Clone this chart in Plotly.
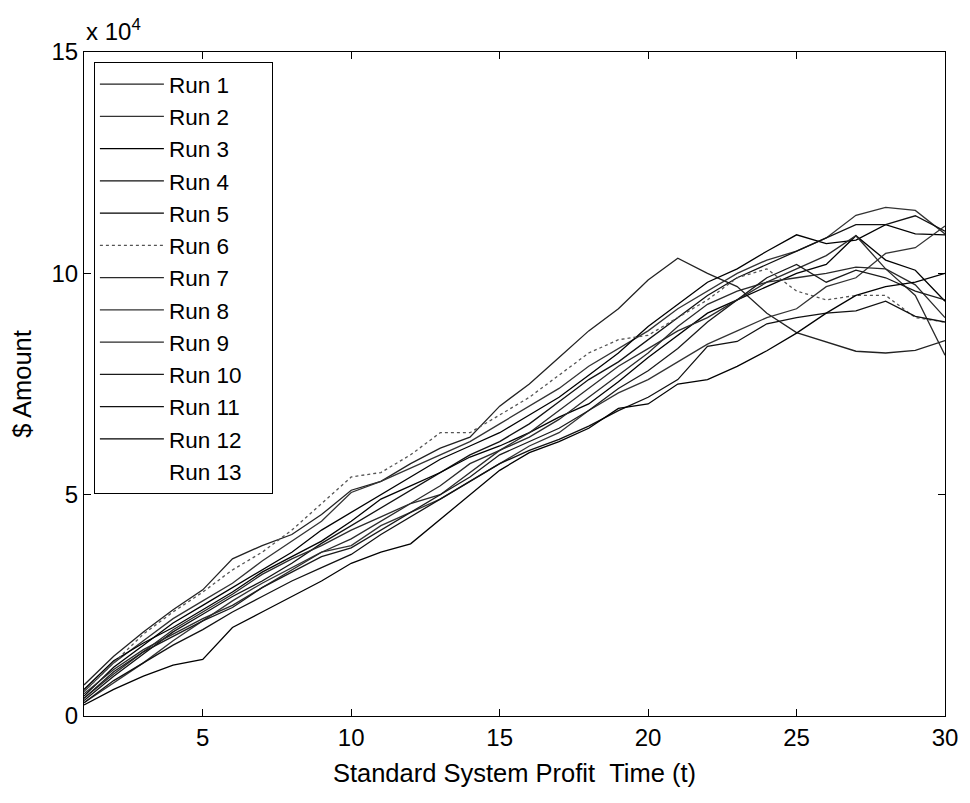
import plotly.graph_objects as go

# time steps
t = list(range(1, 31))

# profit per run, in units of 10^4 $
run1 = [0.70,1.35,1.90,2.40,2.85,3.55,3.85,4.10,4.55,5.10,5.30,5.70,6.05,6.30,7.00,7.50,8.10,8.70,9.20,9.85,10.34,10.00,9.70,9.10,8.66,8.45,8.24,8.20,8.26,8.48]
run2 = [0.55,1.20,1.70,2.20,2.60,3.00,3.50,3.95,4.40,5.05,5.30,5.60,5.90,6.20,6.60,7.00,7.40,7.90,8.30,8.70,9.20,9.60,10.00,10.30,10.50,10.80,11.31,11.49,11.42,10.89]
run3 = [0.45,1.10,1.60,2.10,2.50,2.90,3.30,3.70,4.20,4.60,5.00,5.40,5.80,6.10,6.40,6.80,7.20,7.70,8.20,8.80,9.30,9.80,10.10,10.50,10.87,10.67,10.75,11.10,10.89,10.87]
run4 = [0.35,0.90,1.40,1.90,2.30,2.70,3.05,3.45,3.90,4.30,4.70,5.10,5.50,5.90,6.20,6.60,7.10,7.60,8.00,8.50,9.00,9.50,9.90,10.20,10.50,10.80,11.10,11.10,11.30,10.95]
run5 = [0.60,1.25,1.65,2.00,2.40,2.80,3.25,3.60,3.95,4.40,4.90,5.20,5.50,5.85,6.10,6.40,6.75,7.05,7.55,8.10,8.60,9.10,9.40,9.70,10.00,10.20,10.85,10.30,10.07,9.37]
run6 = [0.55,1.20,1.85,2.35,2.80,3.30,3.70,4.20,4.80,5.40,5.50,5.90,6.40,6.40,6.80,7.20,7.70,8.20,8.50,8.60,9.00,9.40,9.90,10.10,9.60,9.40,9.50,9.50,9.00,8.90]
run7 = [0.40,0.95,1.45,1.95,2.35,2.75,3.20,3.55,3.85,4.20,4.50,4.80,5.20,5.70,6.00,6.40,6.90,7.40,7.90,8.30,8.70,9.00,9.40,9.80,10.10,10.40,10.85,10.10,9.50,8.15]
run8 = [0.30,0.75,1.20,1.70,2.15,2.60,3.00,3.35,3.70,3.85,4.30,4.60,4.90,5.30,5.70,6.10,6.40,6.90,7.30,7.60,8.00,8.40,8.70,9.00,9.20,9.70,9.90,10.45,10.58,11.07]
run9 = [0.50,1.05,1.50,1.85,2.20,2.50,2.90,3.30,3.70,4.00,4.40,4.80,5.00,5.50,6.00,6.30,6.70,7.20,7.70,8.20,8.80,9.30,9.60,9.80,9.90,10.00,10.14,10.10,9.74,9.00]
run10 = [0.40,1.00,1.45,1.80,2.15,2.45,2.90,3.25,3.60,3.80,4.20,4.60,5.00,5.40,5.90,6.20,6.50,6.90,7.40,7.80,8.30,8.90,9.40,9.90,10.20,9.80,10.07,9.90,9.60,9.40]
run11 = [0.30,0.80,1.20,1.60,1.95,2.35,2.70,3.05,3.35,3.65,4.10,4.50,4.90,5.30,5.70,6.00,6.25,6.55,6.90,7.20,7.60,8.35,8.46,8.86,9.00,9.10,9.15,9.37,9.03,8.90]
run12 = [0.25,0.60,0.90,1.15,1.28,2.00,2.35,2.70,3.05,3.45,3.70,3.89,4.45,5.00,5.55,5.95,6.20,6.50,6.95,7.05,7.50,7.60,7.90,8.25,8.65,9.10,9.50,9.70,9.80,10.00]
run13 = [0.45,1.00,1.50,1.95,2.35,2.75,3.15,3.55,3.95,4.35,4.75,5.10,5.45,5.80,6.15,6.50,6.90,7.30,7.70,8.10,8.50,8.90,9.30,9.60,9.90,10.10,10.30,10.40,10.30,10.20]

runs = [run1, run2, run3, run4, run5, run6, run7, run8, run9, run10, run11, run12, run13]
names = ["Run %d" % i for i in range(1, 14)]

x_ticks = [5, 10, 15, 20, 25, 30]
y_ticks = [0, 5, 10, 15]

colors = ["#222222", "#333333", "#000000", "#111111", "#000000", "#555555",
          "#2a2a2a", "#333333", "#2a2a2a", "#1a1a1a", "#111111", "#000000", "#ffffff"]
dashes = ["solid"] * 5 + ["dot"] + ["solid"] * 7

FONT = "Liberation Sans, Arial, Helvetica, sans-serif"
PAD = "\u00a0" * 4  # widen legend box like the reference

fig = go.Figure()
# draw the (invisible, white) Run 13 first so it does not hide other lines
order = [12] + list(range(12))
for i in order:
    fig.add_trace(go.Scatter(
        x=t, y=runs[i], mode="lines", name=names[i] + PAD, legendrank=i + 1,
        line=dict(color=colors[i], width=1.3, dash=dashes[i]),
    ))

fig.update_layout(
    width=962, height=787,
    margin=dict(l=76, r=17, t=44, b=64),
    paper_bgcolor="white", plot_bgcolor="white",
    font=dict(family=FONT, size=24, color="black"),
    showlegend=True,
    legend=dict(
        x=0.0115, y=0.985, xanchor="left", yanchor="top",
        bgcolor="white", bordercolor="black", borderwidth=1,
        font=dict(family=FONT, size=22.5, color="black"),
        tracegroupgap=0, itemwidth=64,
    ),
    xaxis=dict(
        range=[1, 30], tickvals=x_ticks, ticktext=[str(v) for v in x_ticks],
        ticks="inside", ticklen=7, tickcolor="black", showline=True,
        linecolor="black", linewidth=1, mirror="ticks", showgrid=False,
        zeroline=False, tickfont=dict(size=24),
        title=dict(text="Standard System Profit \u00a0Time (t)", font=dict(size=25.5), standoff=14),
    ),
    yaxis=dict(
        range=[0, 15], tickvals=y_ticks, ticktext=[str(v) for v in y_ticks],
        ticks="inside", ticklen=7, tickcolor="black", showline=True,
        linecolor="black", linewidth=1, mirror="ticks", showgrid=False,
        zeroline=False, tickfont=dict(size=24),
        title=dict(text="$ Amount", font=dict(size=25.5), standoff=14),
    ),
    annotations=[dict(
        text="x 10<sup>4</sup>", xref="paper", yref="paper", x=0.0, y=1.0,
        xanchor="left", yanchor="bottom", showarrow=False, yshift=5,
        font=dict(family=FONT, size=24, color="black"),
    )],
)

fig.write_html("out.html")
